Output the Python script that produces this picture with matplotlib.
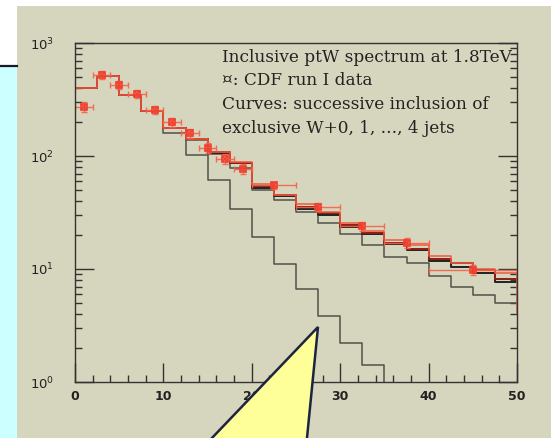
import matplotlib.pyplot as plt
import numpy as np
from matplotlib.patches import Polygon, Rectangle

# theory histograms: bins of 2.5 GeV from 0 to 50
edges = np.arange(0, 52.5, 2.5)

# successive inclusion of exclusive W+0, 1, ..., 4 jets
w0 = [400, 510, 347, 248, 160, 102, 61.3, 34, 19.2, 11.1, 6.65, 3.84, 2.21, 1.41,
      1e-3, 1e-3, 1e-3, 1e-3, 1e-3, 1e-3]
w01 = [400, 510, 347, 250, 177, 138, 104, 78, 50, 40.8, 32, 25.5, 20.4, 16.3,
       12.8, 11.3, 8.66, 6.93, 5.9, 5.0]
w012 = [400, 510, 347, 250, 177, 141, 106, 86, 52, 44, 34, 30, 23.5, 20.4,
        16.6, 14.7, 11.8, 10.4, 9.2, 7.7]
w0123 = [400, 510, 347, 250, 177, 141, 108, 87, 54.4, 45, 35.4, 31.3, 24.5, 20.8,
         17.0, 15.0, 12.2, 11.3, 9.8, 8.15]
w01234 = [400, 510, 347, 250, 177, 141, 108, 88, 56.5, 45, 37.6, 32, 25.5, 21.7,
          18.0, 16.3, 13.0, 11.3, 10.0, 9.2]
tail_full = 4.1

# CDF run I data
data_x = [1, 3, 5, 7, 9, 11, 13, 15, 17, 19, 22.5, 27.5, 32.5, 37.5, 45]
data_xerr = [1, 1, 1, 1, 1, 1, 1, 1, 1, 1, 2.5, 2.5, 2.5, 2.5, 5]
data_y = [271, 521, 425, 354, 255, 200, 160, 118, 94, 77, 55, 35.4, 24.0, 17.0, 9.8]
data_rel = [0.1, 0.08, 0.08, 0.08, 0.08, 0.09, 0.09, 0.1, 0.1, 0.1, 0.08, 0.08, 0.09, 0.1, 0.1]

W, H = 551, 438
fig = plt.figure(figsize=(W / 100, H / 100), dpi=100)
fig.patch.set_facecolor('white')

def px(x, y):
    return (x / W, 1 - y / H)

# slide background pieces
fig.patches.append(Rectangle(px(0, H), 17 / W, (H - 66) / H, transform=fig.transFigure,
                             facecolor='#ccffff', edgecolor='none', zorder=-2))
fig.patches.append(Rectangle(px(17, H), (W - 17) / W, (H - 6) / H, transform=fig.transFigure,
                             facecolor='#d6d5bd', edgecolor='none', zorder=-2))
fig.add_artist(plt.Line2D([0, 17 / W], [1 - 65.5 / H] * 2, transform=fig.transFigure,
                          color='#1a1a2a', lw=1.6, zorder=-1))

ax = fig.add_axes([75 / W, 56 / H, 442 / W, 339 / H])
ax.set_zorder(1)
ax.set_facecolor('none')
ax.set_yscale('log')
ax.set_xlim(0, 50)
ax.set_ylim(1, 1000)


def hist_line(vals, end, **kw):
    xs = np.repeat(edges, 2)
    ys = np.concatenate([[1e-3], np.repeat(vals, 2), [end]])
    ax.plot(xs, ys, **kw)


hist_line(w0, w0[-1], color='#505048', lw=1.1)
hist_line(w01, w01[-1], color='#505048', lw=1.1)
hist_line(w012, w012[-1], color='#222222', lw=1.4)
hist_line(w0123, w0123[-1], color='#8a1e14', lw=1.4)
hist_line(w01234, tail_full, color='#f0583e', lw=1.1)

yerr = np.array(data_y) * np.array(data_rel)
ax.errorbar(data_x, data_y, xerr=data_xerr, yerr=yerr, fmt='none',
            ecolor='#f5624a', elinewidth=1.0, capsize=2.5, alpha=0.9)
ax.plot(data_x, data_y, ls='none', marker='s', ms=5, mfc='none', mec='#f04030', mew=1.2)
ax.plot(data_x, data_y, ls='none', marker='x', ms=5, mec='#f04030', mew=1.2)

for s in ax.spines.values():
    s.set_color('#333333')
    s.set_linewidth(1.0)

ax.set_xticks([0, 10, 20, 30, 40, 50])
ax.set_xticks(np.arange(0, 51, 2), minor=True)
ax.tick_params(axis='x', which='major', direction='in', length=14, width=1, color='#333333',
               labelsize=9, pad=6)
ax.tick_params(axis='x', which='minor', direction='in', length=5, width=1, color='#333333')
ax.tick_params(axis='y', which='major', direction='in', length=14, width=1, color='#333333',
               right=True, labelsize=9.5, pad=15)
ax.tick_params(axis='y', which='minor', direction='in', length=5, width=1, color='#333333',
               right=True)
for lab in ax.get_xticklabels():
    lab.set_fontweight('bold')
    lab.set_color('#222222')
for lab in ax.get_yticklabels():
    lab.set_color('#222222')

lines = ["Inclusive ptW spectrum at 1.8TeV",
         "\u00a4: CDF run I data",
         "Curves: successive inclusion of",
         "exclusive W+0, 1, ..., 4 jets"]
for i, t in enumerate(lines):
    fig.text(222 / W, 1 - (57 + 23.7 * i) / H, t, family='DejaVu Serif', fontsize=12.2,
             color='#222222', va='center', ha='left', zorder=3)

# yellow callout
callout = Polygon([px(318, 327), px(200.5, 450), px(305.8, 450)], closed=True,
                  transform=fig.transFigure, facecolor='#ffff99', edgecolor='#1c2440',
                  lw=1.8, zorder=5)
fig.add_artist(callout)

fig.savefig('out.png', dpi=100)
